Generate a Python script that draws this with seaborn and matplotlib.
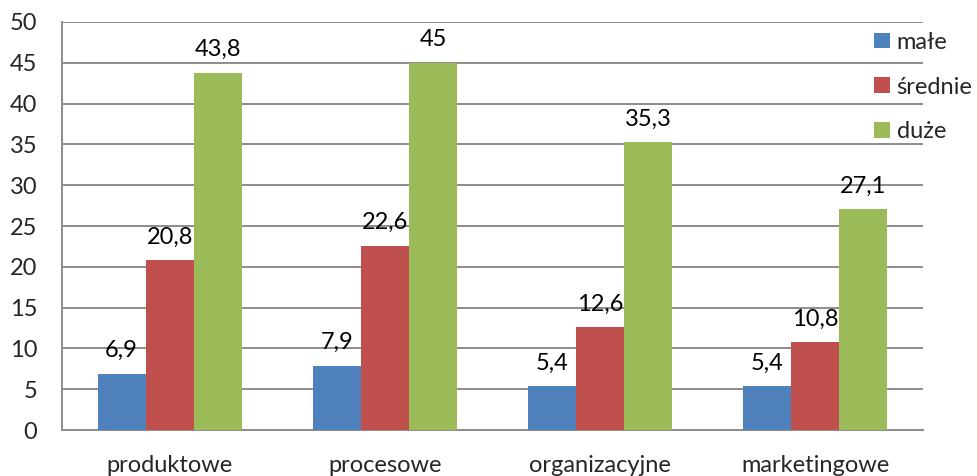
import matplotlib
matplotlib.use("Agg")
import matplotlib.pyplot as plt
import seaborn as sns
import pandas as pd

categories = ["produktowe", "procesowe", "organizacyjne", "marketingowe"]
series_names = ["małe", "średnie", "duże"]
male = [6.9, 7.9, 5.4, 5.4]
srednie = [20.8, 22.6, 12.6, 10.8]
duze = [43.8, 45.0, 35.3, 27.1]
y_ticks = [0, 5, 10, 15, 20, 25, 30, 35, 40, 45, 50]
colors = ["#4F81BD", "#C0504D", "#9BBB59"]

sns.set_theme(style="white")
plt.rcParams["font.family"] = ["Lato", "DejaVu Sans"]

FS = 17
GRID = "#8c8c8c"

df = pd.DataFrame({
    "kategoria": categories * 3,
    "wielkość": [series_names[0]] * 4 + [series_names[1]] * 4 + [series_names[2]] * 4,
    "wartość": male + srednie + duze,
})

fig = plt.figure(figsize=(9.77, 4.76), dpi=100)
ax = fig.add_axes([0.0635, 0.0966, 0.8812, 0.8572])

sns.barplot(data=df, x="kategoria", y="wartość", hue="wielkość",
            order=categories, hue_order=series_names, palette=colors,
            width=0.67, gap=0, saturation=1, errorbar=None, ax=ax,
            linewidth=0, zorder=3)

ax.set_ylim(0, 50)
ax.set_xlim(-0.5, len(categories) - 0.5)
ax.set_yticks(y_ticks)
ax.set_yticklabels([str(t) for t in y_ticks], fontsize=FS)
ax.yaxis.grid(True, color=GRID, linewidth=1.4, zorder=0)
ax.set_axisbelow(True)

# category boundaries carry tick marks, names sit between them
ax.set_xticks([i - 0.5 for i in range(len(categories) + 1)])
ax.set_xticklabels([])
ax.set_xticks(range(len(categories)), minor=True)
ax.set_xticklabels(categories, minor=True, fontsize=FS)
ax.tick_params(axis="x", which="major", length=5.8, width=1.4, color=GRID, direction="out")
ax.tick_params(axis="x", which="minor", length=0, pad=18)
ax.tick_params(axis="y", length=5.8, width=1.4, color=GRID, direction="out", pad=12)

for side in ["top", "right"]:
    ax.spines[side].set_visible(False)
for side in ["left", "bottom"]:
    ax.spines[side].set_color(GRID)
    ax.spines[side].set_linewidth(1.4)

ax.set_xlabel("")
ax.set_ylabel("")

def fmt(v):
    s = f"{v:.1f}"
    if s.endswith(".0"):
        s = s[:-2]
    return s.replace(".", ",")

for cont in ax.containers:
    labels = [fmt(b.get_height()) for b in cont]
    ax.bar_label(cont, labels=labels, padding=9, fontsize=FS, color="#000000")

handles, labs = ax.get_legend_handles_labels()
ax.legend(handles, labs, loc="upper left", bbox_to_anchor=(0.895, 0.933),
          bbox_transform=fig.transFigure, frameon=False, fontsize=FS,
          handlelength=0.64, handleheight=0.64, handletextpad=0.3,
          labelspacing=1.0, borderaxespad=0, borderpad=0)

fig.savefig("out.png", dpi=100)
